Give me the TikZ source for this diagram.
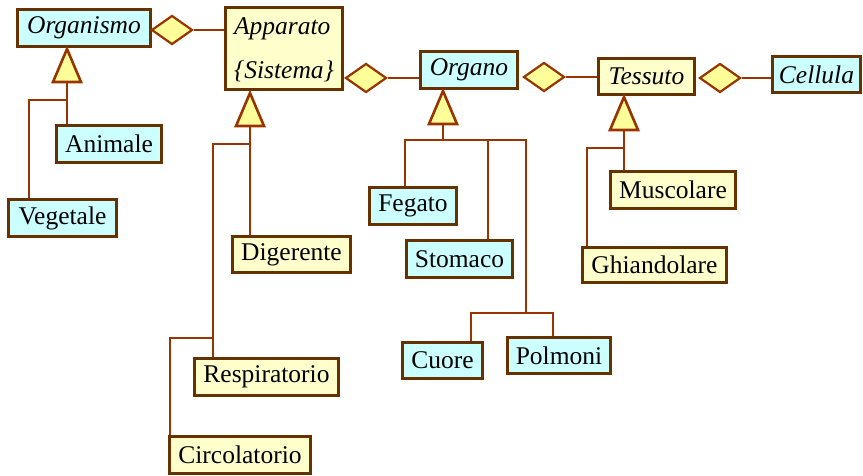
\documentclass[tikz,border=0pt]{standalone}
\usepackage{fontspec}
\setmainfont{Liberation Serif}
\usetikzlibrary{shapes.geometric}
\definecolor{umlbrown}{RGB}{102,51,0}
\definecolor{umlrust}{RGB}{153,51,0}
\definecolor{umlcyan}{RGB}{204,255,255}
\definecolor{umlcream}{RGB}{255,255,204}
\definecolor{umlyellow}{RGB}{255,255,153}

\begin{document}
\begin{tikzpicture}[x=1pt, y=-1pt,
        cls/.style={draw=umlbrown, line width=3.3pt, minimum height=37pt, inner sep=0pt, font=\fontsize{25.5}{30}\selectfont},
        cyanbox/.style={cls, fill=umlcyan},
        creambox/.style={cls, fill=umlcream},
        abstractcls/.style={font=\fontsize{25.5}{30}\selectfont\itshape},
        agg/.style={diamond, draw=umlrust, line width=2.2pt, fill=umlyellow, minimum width=41pt, minimum height=29pt, inner sep=0pt},
        gen/.style={draw=umlrust, line width=2.6pt, fill=umlyellow, line join=miter},
        link/.style={draw=umlrust, line width=2.8pt}
      ]
      \useasboundingbox (0,0) rectangle (863,476);

      \node[cyanbox, abstractcls, minimum width=133pt] (organismo) at (84,28) {Organismo};
      \node[creambox, minimum width=117pt, minimum height=82pt, align=left, text depth=0pt, font=\fontsize{25.5}{44}\selectfont\itshape] (apparato) at (284,48.5) {Apparato\\\{Sistema\}};
      \node[cyanbox, abstractcls, minimum width=97pt] (organo) at (469,70) {Organo};
      \node[creambox, abstractcls, minimum width=96pt, minimum height=36pt] (tessuto) at (646.5,76.5) {Tessuto};
      \node[cyanbox, abstractcls, minimum width=88pt, minimum height=36pt] (cellula) at (816.5,74.5) {Cellula};

      \node[cyanbox, minimum width=105pt] (animale) at (109,144) {Animale};
      \node[cyanbox, minimum width=108pt] (vegetale) at (62.5,218) {Vegetale};

      \node[creambox, minimum width=118pt, minimum height=36pt] (digerente) at (291.5,254.5) {Digerente};
      \node[creambox, minimum width=144pt] (respiratorio) at (266.5,377) {Respiratorio};
      \node[creambox, minimum width=141pt] (circolatorio) at (240,455) {Circolatorio};

      \node[cyanbox, minimum width=87pt] (fegato) at (413,206) {Fegato};
      \node[cyanbox, minimum width=106pt] (stomaco) at (459.5,259) {Stomaco};
      \node[cyanbox, minimum width=80pt, minimum height=36pt] (cuore) at (442.5,360.5) {Cuore};
      \node[cyanbox, minimum width=103pt, minimum height=36pt] (polmoni) at (559,355.5) {Polmoni};

      \node[creambox, minimum width=125pt] (muscolare) at (673,190) {Muscolare};
      \node[creambox, minimum width=144pt, minimum height=35pt] (ghiandolare) at (654.5,265) {Ghiandolare};

      \node[agg] (aggOrganismo) at (172,30) {};
      \node[agg] (aggApparato) at (366,78) {};
      \node[agg] (aggOrgano) at (544,77) {};
      \node[agg] (aggTessuto) at (720,78) {};

      \draw[link] (aggOrganismo.east) -- (aggOrganismo.east -| apparato.west);
      \draw[link] (aggApparato.east) -- (aggApparato.east -| organo.west);
      \draw[link] (aggOrgano.east) -- (aggOrgano.east -| tessuto.west);
      \draw[link] (aggTessuto.east) -- (aggTessuto.east -| cellula.west);

      \coordinate (genOrganismo) at (67,82);
      \coordinate (genApparato) at (250,126);
      \coordinate (genOrgano) at (443,124);
      \coordinate (genTessuto) at (624,130);

      \draw[link] (genOrganismo) -- (genOrganismo |- animale.north);
      \draw[link] (genOrganismo |- 0,100) -| (vegetale.north -| 29,0);

      \draw[link] (genApparato) -- (genApparato |- digerente.north);
      \draw[link] (genApparato |- 0,144) -| (respiratorio.north -| 213,0);
      \draw[link] (213,338) -| (circolatorio.north -| 170,0);

      \draw[link] (genOrgano) -- (443,140);
      \draw[link] (fegato.north -| 405,0) |- (526,140) -- (526,313);
      \draw[link] (stomaco.north -| 488,0) -- (488,140);
      \draw[link] (cuore.north -| 471,0) -- (471,313) -- (553,313) -- (polmoni.north -| 553,0);

      \draw[link] (genTessuto) -- (genTessuto |- muscolare.north);
      \draw[link] (genTessuto |- 0,148) -| (ghiandolare.north -| 587,0);

      \draw[gen] (genOrganismo) ++(0,-33) -- ++(14,33) -- ++(-28,0) -- cycle;
      \draw[gen] (genApparato) ++(0,-33) -- ++(14,33) -- ++(-28,0) -- cycle;
      \draw[gen] (genOrgano) ++(0,-33) -- ++(14,33) -- ++(-28,0) -- cycle;
      \draw[gen] (genTessuto) ++(0,-33) -- ++(14,33) -- ++(-28,0) -- cycle;
    \end{tikzpicture}
\end{document}
